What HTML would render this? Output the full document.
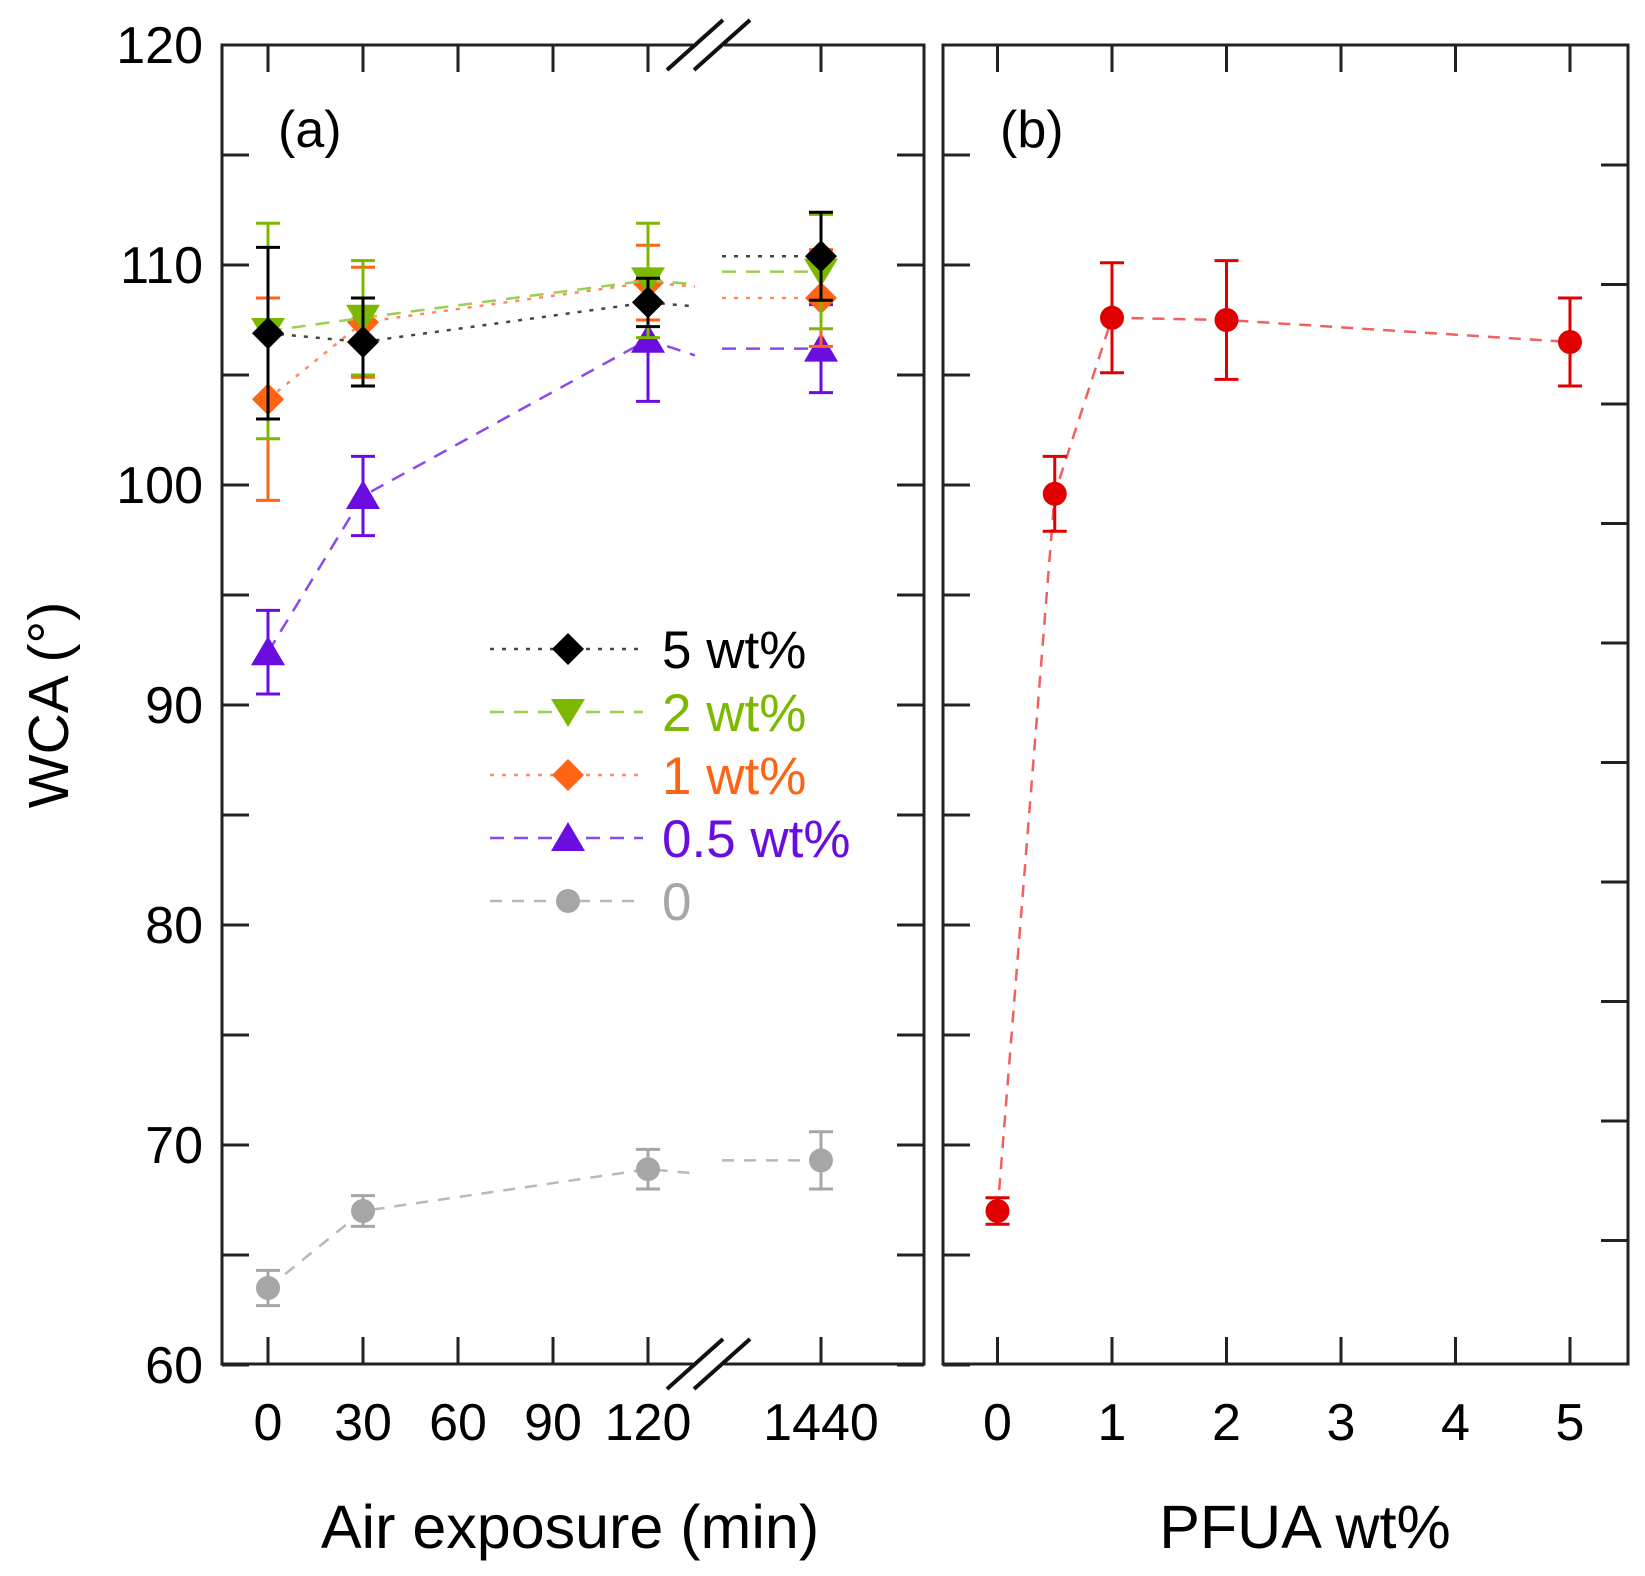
<!DOCTYPE html>
<html><head><meta charset="utf-8"><style>
html,body{margin:0;padding:0;background:#fff}
svg{display:block;font-family:"Liberation Sans",sans-serif}
</style></head><body>
<svg id="chart" width="1645" height="1576" viewBox="0 0 1645 1576" xmlns="http://www.w3.org/2000/svg">
<g id="axes"></g>
<g id="marks"></g>
<g id="legend"></g>
<text transform="translate(68,705) rotate(-90)" text-anchor="middle" font-size="57">WCA (°)</text>
<text x="570" y="1548" text-anchor="middle" font-size="61">Air exposure (min)</text>
<text x="1305" y="1548" text-anchor="middle" font-size="61">PFUA wt%</text>
<text x="278" y="147" font-size="52">(a)</text>
<text x="1000" y="147" font-size="52">(b)</text>
</svg>
<script>
const aCategories=["0","30","60","90","120","1440"];
const aTimes=[0,30,120,1440];
const s5=[106.9,106.5,108.3,110.4], e5=[3.9,2.0,1.1,2.0];
const s2=[107.0,107.6,109.3,109.7], e2=[4.9,2.6,2.6,2.6];
const s1=[103.9,107.4,109.2,108.5], e1=[4.6,2.5,1.7,2.2];
const s05=[92.4,99.5,106.6,106.2], e05=[1.9,1.8,2.8,2.0];
const s0=[63.5,67.0,68.9,69.3], e0=[0.8,0.7,0.9,1.3];
const bX=[0,0.5,1,2,5];
const bY=[67.0,99.6,107.6,107.5,106.5], bE=[0.6,1.7,2.5,2.7,2.0];
const yTicks=[60,70,80,90,100,110,120];
const bTicks=[0,1,2,3,4,5];

const NS="http://www.w3.org/2000/svg";
const yTop=45,yBot=1364;
const yS=v=>yTop+(120-v)*22;
const aL=222,aR=924,bL=943,bR=1628;
const xA=t=>t>=1440?821:268+t*(95/30);
const xB=v=>997.5+v*114.5;
function mk(tag,at,parent){const e=document.createElementNS(NS,tag);for(const k in at)e.setAttribute(k,at[k]);parent.appendChild(e);return e;}
const ax=document.getElementById('axes'),mg=document.getElementById('marks'),lg=document.getElementById('legend');
const st={stroke:'#222','stroke-width':3,fill:'none'};
let p=mk('path',Object.assign({d:`M693 ${yTop} H${aL} V${yBot} H693 M724 ${yBot} H${aR} V${yTop} H724`},st),ax);


[yTop,yBot].forEach(y=>{[0,27].forEach(dx=>{const l=mk('line',{x1:667+dx,y1:y+25,x2:723+dx,y2:y-25,stroke:'#111','stroke-width':4},ax);

});});
p=mk('rect',Object.assign({x:bL,y:yTop,width:bR-bL,height:yBot-yTop},st),ax);


for(let v=60;v<=120;v+=5){const y=yS(v);
 [[aL,aL+27],[aR,aR-27],[bL,bL+27]].forEach(([a,b])=>{const l=mk('line',{x1:a,y1:y,x2:b,y2:y,stroke:'#222','stroke-width':3},ax);
 
 });}
for(let y=165;y<yBot-10;y+=119.5){const l=mk('line',{x1:bR,y1:y,x2:bR-27,y2:y,stroke:'#222','stroke-width':3},ax);

}
yTicks.forEach(v=>{const t=mk('text',{x:203,y:yS(v)+18,'text-anchor':'end','font-size':52},ax);t.textContent=v;

});
aCategories.forEach(c=>{const x=xA(+c);[[yBot,yBot-27],[yTop,yTop+27]].forEach(([a,b])=>{const l=mk('line',{x1:x,y1:a,x2:x,y2:b,stroke:'#222','stroke-width':3},ax);
 
 });
 const t=mk('text',{x:x,y:1440,'text-anchor':'middle','font-size':52},ax);t.textContent=c;
 
 });
bTicks.forEach(v=>{const x=xB(v);[[yBot,yBot-27],[yTop,yTop+27]].forEach(([a,b])=>{const l=mk('line',{x1:x,y1:a,x2:x,y2:b,stroke:'#222','stroke-width':3},ax);
 
 });
 const t=mk('text',{x:x,y:1440,'text-anchor':'middle','font-size':52},ax);t.textContent=v;
 
 });

function marker(shape,x,y,c,parent){let e;
 if(shape==='diamond')e=mk('polygon',{points:`${x},${y-16} ${x+16},${y} ${x},${y+16} ${x-16},${y}`,fill:c},parent);
 else if(shape==='down')e=mk('polygon',{points:`${x-17},${y-13} ${x+17},${y-13} ${x},${y+15}`,fill:c},parent);
 else if(shape==='up')e=mk('polygon',{points:`${x-17},${y+13} ${x+17},${y+13} ${x},${y-16}`,fill:c},parent);
 else e=mk('circle',{cx:x,cy:y,r:12,fill:c},parent);
 return e;}
const series=[
 {n:'0',v:s0,e:e0,c:'#a6a6a6',sh:'circle',dash:'12 10'},
 {n:'0.5 wt%',v:s05,e:e05,c:'#6a0ee0',sh:'up',dash:'14 10'},
 {n:'1 wt%',v:s1,e:e1,c:'#ff6414',sh:'diamond',dash:'4 8'},
 {n:'2 wt%',v:s2,e:e2,c:'#7cb800',sh:'down',dash:'14 10'},
 {n:'5 wt%',v:s5,e:e5,c:'#000',sh:'diamond',dash:'4 8'}];
const lc={'#000':'#444','#ff6414':'#ff8a60','#7cb800':'#9ad050','#6a0ee0':'#8a4af0','#a6a6a6':'#b8b8b8'};
series.forEach(s=>{
 const g=mk('g',{},mg);
 
 
 const xs=aTimes.map(xA),ys=s.v.map(yS);
 const d=`M${xs[0]} ${ys[0]} L${xs[1]} ${ys[1]} L${xs[2]} ${ys[2]} L695 ${ys[2]-(ys[2]-ys[1])*0.1} M722 ${ys[3]} L${xs[3]} ${ys[3]}`;
 const l=mk('path',{d:d,fill:'none',stroke:lc[s.c],'stroke-width':2.5,'stroke-dasharray':s.dash},g);
 
 
 aTimes.forEach((t,i)=>{const x=xA(t),y1=yS(s.v[i]+s.e[i]),y2=yS(s.v[i]-s.e[i]);
  const eb=mk('path',{d:`M${x} ${y1} V${y2} M${x-12} ${y1} H${x+12} M${x-12} ${y2} H${x+12}`,stroke:s.c,'stroke-width':3,fill:'none'},g);
  
  
  const m=marker(s.sh,x,yS(s.v[i]),s.c,g);
  
  });
});
const gb=mk('g',{},mg);


const pl=mk('path',{d:'M'+bX.map((v,i)=>xB(v)+' '+yS(bY[i])).join(' L'),fill:'none',stroke:'#f06060','stroke-width':2.5,'stroke-dasharray':'12 9'},gb);


bX.forEach((v,i)=>{const x=xB(v),y1=yS(bY[i]+bE[i]),y2=yS(bY[i]-bE[i]);
 const eb=mk('path',{d:`M${x} ${y1} V${y2} M${x-12} ${y1} H${x+12} M${x-12} ${y2} H${x+12}`,stroke:'#e00000','stroke-width':3,fill:'none'},gb);
 
 
 const m=marker('circle',x,yS(bY[i]),'#e00000',gb);
 
 });
const order=[4,3,2,1,0];
order.forEach((k,i)=>{const s=series[k],y=649+i*63;
 const g=mk('g',{},lg);
 
 
 mk('line',{x1:490,y1:y,x2:643,y2:y,stroke:lc[s.c],'stroke-width':2.5,'stroke-dasharray':s.dash},g);
 marker(s.sh,568,y,s.c,g);
 const t=mk('text',{x:662,y:y+19,'font-size':53,fill:s.c},g);t.textContent=s.n;});
</script>
</body></html>
